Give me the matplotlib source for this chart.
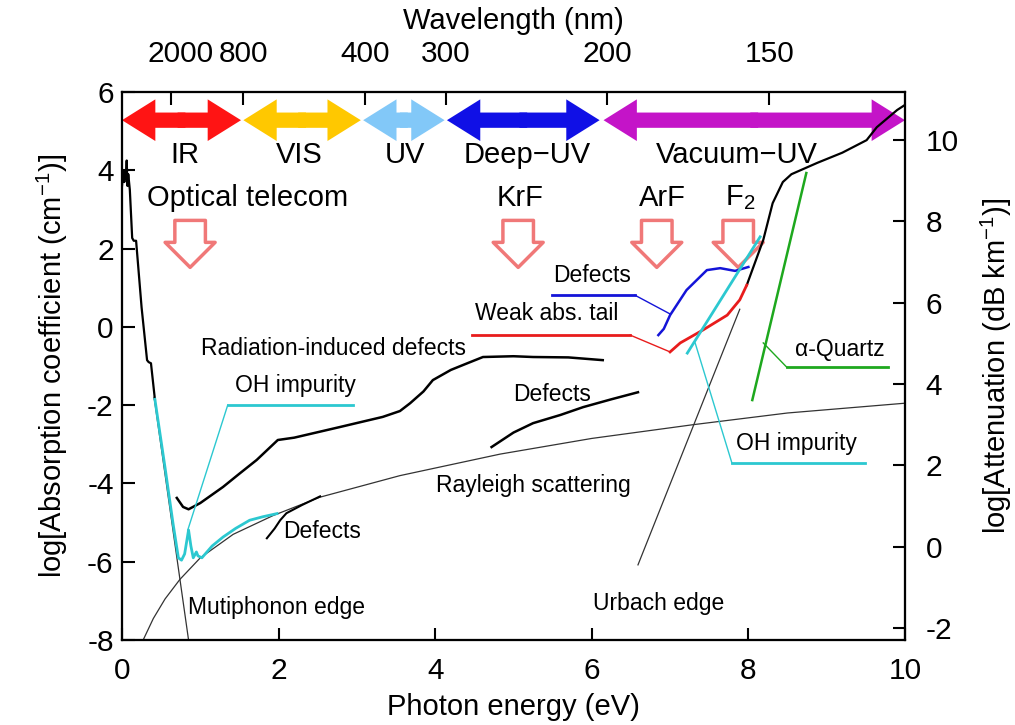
import matplotlib
matplotlib.use('Agg')
import matplotlib.pyplot as plt
from matplotlib.patches import FancyArrowPatch
from matplotlib.transforms import ScaledTranslation

plt.rcParams['font.family'] = ['Liberation Sans', 'DejaVu Sans']
plt.rcParams['mathtext.fontset'] = 'custom'
plt.rcParams['mathtext.rm'] = 'Liberation Sans'
plt.rcParams['mathtext.it'] = 'Liberation Sans:italic'
plt.rcParams['axes.unicode_minus'] = False

# ---- data (photon energy in eV, log absorption) ----
main_ir_x = [0.0, 0.02, 0.03, 0.04, 0.05, 0.06, 0.07, 0.08, 0.10, 0.13, 0.15, 0.18, 0.25, 0.32, 0.34, 0.37, 0.42]
main_ir_y = [3.6, 4.0, 3.7, 4.0, 3.8, 4.25, 3.6, 3.9, 3.5, 2.27, 2.2, 2.2, 0.5, -0.85, -0.9, -0.93, -1.85]

oh_ir_x = [0.42, 0.55, 0.65, 0.72, 0.76, 0.80, 0.85, 0.88, 0.91, 0.95, 0.97, 1.02, 1.15, 1.29, 1.45, 1.63, 1.80, 1.98]
oh_ir_y = [-1.85, -3.6, -5.0, -5.9, -5.96, -5.8, -5.19, -5.6, -5.9, -5.75, -5.85, -5.9, -5.6, -5.37, -5.15, -4.94, -4.85, -4.77]

rad_x = [0.70, 0.78, 0.85, 1.0, 1.29, 1.50, 1.72, 1.99, 2.2, 2.78, 3.33, 3.55, 3.68, 3.85, 3.97, 4.2, 4.41, 4.61, 5.0, 5.25, 5.7, 6.14]
rad_y = [-4.37, -4.6, -4.66, -4.5, -4.09, -3.75, -3.4, -2.89, -2.83, -2.56, -2.3, -2.15, -1.95, -1.65, -1.36, -1.1, -0.93, -0.77, -0.75, -0.77, -0.78, -0.85]

uv_defects_x = [4.72, 5.0, 5.25, 5.6, 5.89, 6.25, 6.59]
uv_defects_y = [-3.07, -2.7, -2.46, -2.25, -2.05, -1.85, -1.67]

ir_defects_x = [1.85, 1.95, 2.02, 2.1, 2.3, 2.53]
ir_defects_y = [-5.4, -5.15, -4.94, -4.76, -4.55, -4.33]

rayleigh_x = [0.27, 0.4, 0.55, 0.74, 1.0, 1.42, 1.93, 2.53, 3.55, 4.83, 6.0, 7.29, 8.5, 10.0]
rayleigh_y = [-8.0, -7.45, -6.95, -6.45, -5.9, -5.3, -4.82, -4.35, -3.8, -3.25, -2.85, -2.5, -2.2, -1.95]

multiphonon_x = [0.41, 0.85]
multiphonon_y = [-1.8, -8.0]

urbach_x = [6.59, 7.89]
urbach_y = [-6.08, 0.45]

tail_x = [7.0, 7.13, 7.42, 7.73, 7.89, 7.98]
tail_y = [-0.64, -0.41, -0.08, 0.3, 0.69, 1.07]

vuv_defects_x = [6.85, 6.92, 7.0, 7.21, 7.47, 7.64, 7.83, 8.0]
vuv_defects_y = [-0.21, -0.05, 0.3, 0.94, 1.45, 1.5, 1.43, 1.53]

oh_vuv_x = [7.22, 8.15]
oh_vuv_y = [-0.67, 2.3]

quartz_x = [8.05, 8.74]
quartz_y = [-1.87, 3.93]

edge_x = [7.98, 8.19, 8.31, 8.44, 8.55, 8.88, 9.2, 9.51, 9.64, 9.9, 10.0]
edge_y = [1.07, 2.22, 3.16, 3.7, 3.9, 4.19, 4.45, 4.77, 5.1, 5.54, 5.67]

# spectral regions (eV) shown as double arrows
band_names = ['IR', 'VIS', 'UV', 'Deep\u2212UV', 'Vacuum\u2212UV']
band_start = [0.0, 1.55, 3.08, 4.15, 6.15]
band_end = [1.52, 3.05, 4.12, 6.10, 10.0]
band_label_x = [0.8, 2.27, 3.61, 5.17, 7.85]
band_colors = ['#ff1414', '#ffc800', '#82c8f8', '#1010e6', '#c414c8']

# light sources (eV)
source_names = ['Optical telecom', 'KrF', 'ArF', 'F$_2$']
source_x = [0.87, 5.06, 6.83, 7.87]
source_label_x = [1.61, 5.08, 6.9, 7.9]

top_wavelengths = [2000, 800, 400, 300, 200, 150]


def main():
    fig = plt.figure(figsize=(10.15, 7.25), dpi=100)
    ax = fig.add_axes([0.1202, 0.1172, 0.7714, 0.7559])
    ax.set_xlim(0, 10)
    ax.set_ylim(-8, 6)

    cyan = '#2cc8d0'
    # thin reference curves
    ax.plot(rayleigh_x, rayleigh_y, color='#333333', lw=0.9)
    ax.plot(multiphonon_x, multiphonon_y, color='#333333', lw=0.9)
    ax.plot(urbach_x, urbach_y, color='#333333', lw=0.9)

    # measured curves
    ax.plot(main_ir_x, main_ir_y, color='black', lw=1.6)
    ax.plot(oh_ir_x, oh_ir_y, color=cyan, lw=2)
    ax.plot(rad_x, rad_y, color='black', lw=1.8)
    ax.plot(uv_defects_x, uv_defects_y, color='black', lw=1.8)
    ax.plot(ir_defects_x, ir_defects_y, color='black', lw=1.5)
    ax.plot(edge_x, edge_y, color='black', lw=1.6)
    ax.plot(tail_x, tail_y, color='#e81c1c', lw=2)
    ax.plot(vuv_defects_x, vuv_defects_y, color='#1414d8', lw=1.8)
    ax.plot(oh_vuv_x, oh_vuv_y, color=cyan, lw=2)
    ax.plot(quartz_x, quartz_y, color='#1ea81e', lw=1.8)

    # leader lines and labels
    ax.plot([0.84, 1.35], [-5.19, -2.0], color=cyan, lw=1)
    ax.plot([1.35, 2.95], [-2.0, -2.0], color=cyan, lw=2)
    ax.plot([7.0, 6.49], [-0.64, -0.21], color='#e81c1c', lw=1)
    ax.plot([6.49, 4.47], [-0.21, -0.21], color='#e81c1c', lw=2)
    ax.plot([7.0, 6.55], [0.33, 0.81], color='#1414d8', lw=1)
    ax.plot([6.55, 5.49], [0.81, 0.81], color='#1414d8', lw=2)
    ax.plot([7.32, 7.79], [-0.41, -3.48], color=cyan, lw=1)
    ax.plot([7.79, 9.49], [-3.48, -3.48], color=cyan, lw=2)
    ax.plot([8.19, 8.49], [-0.41, -1.03], color='#1ea81e', lw=1)
    ax.plot([8.49, 9.78], [-1.03, -1.03], color='#1ea81e', lw=2)

    small = 16.5
    ax.text(2.70, -0.54, 'Radiation-induced defects', fontsize=small, ha='center', va='center')
    ax.text(2.21, -1.49, 'OH impurity', fontsize=small, ha='center', va='center')
    ax.text(2.55, -5.24, 'Defects', fontsize=small, ha='center', va='center')
    ax.text(1.97, -7.16, 'Mutiphonon edge', fontsize=small, ha='center', va='center')
    ax.text(5.26, -4.04, 'Rayleigh scattering', fontsize=small, ha='center', va='center')
    ax.text(5.49, -1.72, 'Defects', fontsize=small, ha='center', va='center')
    ax.text(6.85, -7.06, 'Urbach edge', fontsize=small, ha='center', va='center')
    ax.text(6.0, 1.32, 'Defects', fontsize=small, ha='center', va='center')
    ax.text(5.42, 0.33, 'Weak abs. tail', fontsize=small, ha='center', va='center')
    ax.text(8.62, -2.99, 'OH impurity', fontsize=small, ha='center', va='center')
    ax.text(9.17, -0.57, '\u03b1-Quartz', fontsize=small, ha='center', va='center')

    # spectral region arrows (two half arrows overlapping at the middle)
    band_y = 5.28
    for name, x0, x1, xl, c in zip(band_names, band_start, band_end, band_label_x, band_colors):
        xm = (x0 + x1) / 2
        for start, xe in ((xm + 0.05, x0), (xm - 0.05, x1)):
            arr = FancyArrowPatch((start, band_y), (xe, band_y),
                                  arrowstyle='simple,head_length=24,head_width=30,tail_width=11',
                                  mutation_scale=1, color=c, lw=0, shrinkA=0, shrinkB=0,
                                  clip_on=False)
            ax.add_patch(arr)
        ax.text(xl, 4.4, name, fontsize=21, ha='center', va='center')

    # light source arrows
    for name, xs, xl in zip(source_names, source_x, source_label_x):
        arr = FancyArrowPatch((xs, 2.72), (xs, 1.52),
                              arrowstyle='simple,head_length=18,head_width=36,tail_width=22',
                              mutation_scale=1, facecolor='white', edgecolor='#f07878',
                              lw=2.5, shrinkA=0, shrinkB=0)
        ax.add_patch(arr)
        ax.text(xl, 3.3, name, fontsize=21, ha='center', va='center')

    ax.set_xticks([0, 2, 4, 6, 8, 10])
    ax.set_yticks([-8, -6, -4, -2, 0, 2, 4, 6])
    ax.set_xlabel('Photon energy (eV)', fontsize=21, labelpad=6)
    ax.set_ylabel('log[Absorption coefficient (cm$^{-1}$)]', fontsize=21, labelpad=12)
    ax.tick_params(direction='in', length=9, width=1.5, labelsize=21.5)
    ax.tick_params(axis='x', pad=12)
    ax.tick_params(axis='y', pad=6)

    # right axis: attenuation
    ax_r = ax.twinx()
    ax_r.set_ylim(-2.29, 11.18)
    ax_r.set_yticks([-2, 0, 2, 4, 6, 8, 10])
    ax_r.set_ylabel('log[Attenuation (dB km$^{-1}$)]', fontsize=21, labelpad=14)
    ax_r.tick_params(direction='in', length=9, width=1.5, labelsize=21.5, pad=15)

    # top axis: wavelength
    ax_t = ax.twiny()
    ax_t.set_xlim(0, 10)
    ax_t.set_xticks([1239.84 / w for w in top_wavelengths])
    ax_t.set_xticklabels([str(w) for w in top_wavelengths])
    ax_t.set_xlabel('Wavelength (nm)', fontsize=21, labelpad=8)
    ax_t.tick_params(direction='in', length=9, width=1.5, labelsize=21.5, pad=17)
    first = ax_t.xaxis.get_major_ticks()[0].label2
    first.set_transform(first.get_transform() + ScaledTranslation(7 / 72, 0, fig.dpi_scale_trans))

    for a in (ax, ax_r, ax_t):
        for s in a.spines.values():
            s.set_linewidth(1.5)

    fig.savefig('out.png', dpi=100)


if __name__ == '__main__':
    main()
